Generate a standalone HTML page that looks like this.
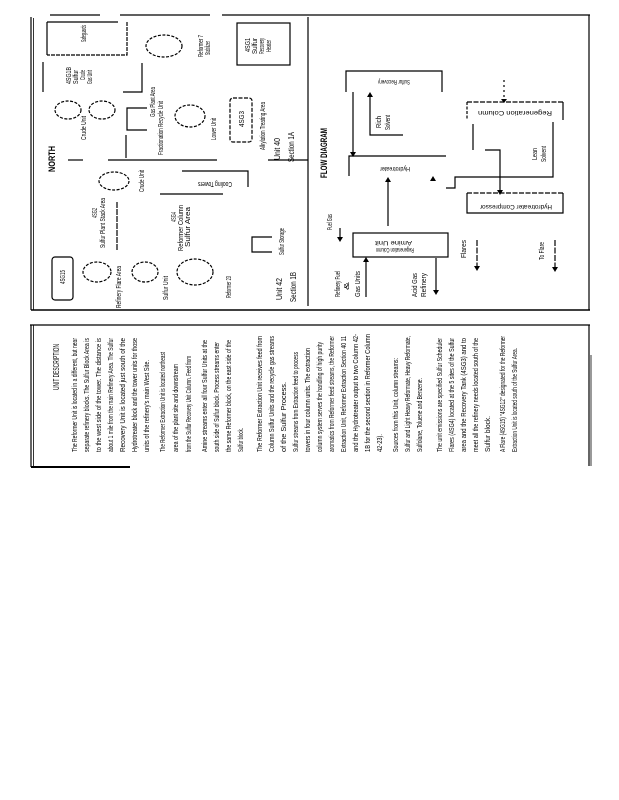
<!DOCTYPE html>
<html><head><meta charset="utf-8"><style>
html,body{margin:0;padding:0;background:#fff;}
svg{display:block;}
text{font-family:"Liberation Sans",sans-serif;fill:#000;}
</style></head><body>
<svg width="619" height="800" viewBox="0 0 619 800" xmlns="http://www.w3.org/2000/svg">
<g stroke="#000" stroke-width="1.2" fill="none">
<line x1="31" y1="17" x2="31" y2="310"/>
<line x1="33.5" y1="18" x2="33.5" y2="310" stroke-width="0.8"/>
<line x1="31" y1="310" x2="590" y2="310" stroke-width="1.6"/>
<line x1="50" y1="15" x2="100" y2="15"/>
<line x1="120" y1="15" x2="210" y2="15"/>
<line x1="222" y1="15" x2="590" y2="15"/>
<line x1="589" y1="15" x2="589" y2="310"/>
<line x1="308" y1="17" x2="308" y2="306"/>
<line x1="268" y1="160" x2="308" y2="160"/>
<polyline points="127,22 127,55 47,55" stroke-dasharray="4,1"/>
<line x1="47" y1="22" x2="47" y2="55"/>
<line x1="47" y1="22" x2="118" y2="22"/>
<ellipse cx="164" cy="46" rx="18" ry="11" stroke-dasharray="3,1.5"/>
<rect x="237" y="23" width="53" height="42"/>
<line x1="43" y1="62" x2="43" y2="92"/>
<polyline points="142,63 142,92 123,92"/>
<ellipse cx="68" cy="110" rx="13" ry="9" stroke-dasharray="3,1.5"/>
<ellipse cx="102" cy="110" rx="13" ry="9" stroke-dasharray="3,1.5"/>
<polyline points="147,108 127,108 127,130 147,130"/>
<ellipse cx="190" cy="116" rx="15" ry="11" stroke-dasharray="3,1.5"/>
<rect x="230" y="98" width="22" height="44" rx="3" stroke-dasharray="4,1.5"/>
<line x1="68" y1="160" x2="83" y2="160"/>
<line x1="108" y1="160" x2="217" y2="160"/>
<line x1="126" y1="135" x2="126" y2="158"/>
<ellipse cx="114" cy="181" rx="15" ry="9" stroke-dasharray="3,1.5"/>
<polyline points="182,171 248,171 248,187"/>
<line x1="160" y1="194" x2="223" y2="194"/>
<line x1="117" y1="202" x2="117" y2="250" stroke-dasharray="6,1"/>
<polyline points="272,237 252,237 252,252 272,252"/>
<rect x="52" y="257" width="21" height="43" rx="3"/>
<ellipse cx="97" cy="272" rx="14" ry="10" stroke-dasharray="3,1.5"/>
<ellipse cx="145" cy="272" rx="13" ry="10" stroke-dasharray="3,1.5"/>
<ellipse cx="195" cy="272" rx="18" ry="13" stroke-dasharray="3,1.5"/>
<polyline points="346,92 346,71 442,71 442,92"/>
<line x1="353" y1="92" x2="353" y2="152"/>
<polyline points="403,135 370,135 370,97"/>
<polyline points="349,176 349,156 446,156"/>
<line x1="388" y1="226" x2="388" y2="182"/>
<polyline points="553,122 553,177 455,177 455,188 446,188"/>
<line x1="467" y1="102" x2="563" y2="102" stroke-dasharray="5,1.5"/>
<line x1="467" y1="102" x2="467" y2="120" stroke-dasharray="3,1.5"/>
<line x1="563" y1="102" x2="563" y2="120"/>
<line x1="504" y1="80" x2="504" y2="99" stroke-dasharray="2,3"/>
<line x1="473" y1="124" x2="473" y2="150"/>
<polyline points="485,150 500,150 500,190"/>
<line x1="467" y1="193" x2="563" y2="193" stroke-dasharray="5,1.5"/>
<polyline points="467,193 467,213 563,213 563,193"/>
<rect x="353" y="233" width="95" height="24"/>
<line x1="366" y1="297" x2="366" y2="262"/>
<line x1="436" y1="258" x2="436" y2="290"/>
<line x1="340" y1="228" x2="340" y2="237"/>
<line x1="477" y1="240" x2="477" y2="266" stroke-dasharray="6,1.5"/>
<line x1="555" y1="240" x2="555" y2="267" stroke-dasharray="6,1.5"/>
<line x1="30" y1="325" x2="590" y2="325"/>
<line x1="31" y1="325" x2="31" y2="467"/>
<line x1="33.5" y1="325" x2="33.5" y2="466" stroke-width="0.8"/>
<line x1="31" y1="467" x2="130" y2="467" stroke-width="2"/>
<line x1="589" y1="325" x2="589" y2="466"/>
<line x1="591" y1="355" x2="591" y2="466" stroke-width="0.8"/>
</g>
<g fill="#000">
<polygon points="350,152 356,152 353,157"/>
<polygon points="367,97 373,97 370,92"/>
<polygon points="385,182 391,182 388,177"/>
<polygon points="430,181 436,181 433,176"/>
<polygon points="501,99 507,99 504,103"/>
<polygon points="497,190 503,190 500,195"/>
<polygon points="363,262 369,262 366,257"/>
<polygon points="433,290 439,290 436,295"/>
<polygon points="337,237 343,237 340,242"/>
<polygon points="474,266 480,266 477,271"/>
<polygon points="552,267 558,267 555,272"/>
</g>
<g font-size="7">
<text transform="translate(86,42) rotate(-90)" textLength="17" lengthAdjust="spacingAndGlyphs">Safeguards</text>
<text transform="translate(203,57) rotate(-90)" textLength="22" lengthAdjust="spacingAndGlyphs">Reformer 7</text>
<text transform="translate(210,55) rotate(-90)" textLength="14" lengthAdjust="spacingAndGlyphs">Stabilizer</text>
<text transform="translate(250,52) rotate(-90)" textLength="14" lengthAdjust="spacingAndGlyphs">4SG1</text>
<text transform="translate(257,54) rotate(-90)" textLength="16" lengthAdjust="spacingAndGlyphs">Sulfur</text>
<text transform="translate(264,54) rotate(-90)" textLength="16" lengthAdjust="spacingAndGlyphs">Recovery</text>
<text transform="translate(271,52) rotate(-90)" textLength="12" lengthAdjust="spacingAndGlyphs">Heater</text>
<text transform="translate(71,84) rotate(-90)" textLength="17" lengthAdjust="spacingAndGlyphs">4SG1B</text>
<text transform="translate(78,84) rotate(-90)" textLength="14" lengthAdjust="spacingAndGlyphs">Sulfur</text>
<text transform="translate(85,80) rotate(-90)" textLength="10" lengthAdjust="spacingAndGlyphs">Crude</text>
<text transform="translate(92,84) rotate(-90)" textLength="14" lengthAdjust="spacingAndGlyphs">Gas Unit</text>
<text transform="translate(86,140) rotate(-90)" textLength="24" lengthAdjust="spacingAndGlyphs">Crude Unit</text>
<text transform="translate(155,117) rotate(-90)" textLength="30" lengthAdjust="spacingAndGlyphs">Gas Plant Area</text>
<text transform="translate(163,155) rotate(-90)" textLength="54" lengthAdjust="spacingAndGlyphs">Fractionation Recycle Unit</text>
<text transform="translate(216,140) rotate(-90)" textLength="22" lengthAdjust="spacingAndGlyphs">Lower Unit</text>
<text transform="translate(244,127) rotate(-90)" textLength="16" lengthAdjust="spacingAndGlyphs">4SG3</text>
<text transform="translate(265,150) rotate(-90)" textLength="48" lengthAdjust="spacingAndGlyphs">Alkylation Treating Area</text>
<text transform="translate(144,192) rotate(-90)" textLength="22" lengthAdjust="spacingAndGlyphs">Crude Unit</text>
<text transform="translate(232,182) rotate(180)" textLength="34" lengthAdjust="spacingAndGlyphs">Cooling Towers</text>
<text transform="translate(97,218) rotate(-90)" textLength="10" lengthAdjust="spacingAndGlyphs">4SG2</text>
<text transform="translate(105,248) rotate(-90)" textLength="50" lengthAdjust="spacingAndGlyphs">Sulfur Plant Stack Area</text>
<text transform="translate(176,222) rotate(-90)" textLength="10" lengthAdjust="spacingAndGlyphs">4SG4</text>
<text transform="translate(183,251) rotate(-90)" textLength="46" lengthAdjust="spacingAndGlyphs">Reformer Column</text>
<text transform="translate(190,247) rotate(-90)" textLength="40" lengthAdjust="spacingAndGlyphs">Sulfur Area</text>
<text transform="translate(284,255) rotate(-90)" textLength="27" lengthAdjust="spacingAndGlyphs">Sulfur Storage</text>
<text transform="translate(65,284) rotate(-90)" textLength="14" lengthAdjust="spacingAndGlyphs">4SG15</text>
<text transform="translate(121,308) rotate(-90)" textLength="42" lengthAdjust="spacingAndGlyphs">Refinery Flare Area</text>
<text transform="translate(168,300) rotate(-90)" textLength="24" lengthAdjust="spacingAndGlyphs">Sulfur Unit</text>
<text transform="translate(231,298) rotate(-90)" textLength="22" lengthAdjust="spacingAndGlyphs">Reformer 23</text>
<text transform="translate(410,80) rotate(180)" font-size="6" textLength="32" lengthAdjust="spacingAndGlyphs">Sulfur Recovery</text>
<text transform="translate(381,128) rotate(-90)" textLength="12" lengthAdjust="spacingAndGlyphs">Rich</text>
<text transform="translate(390,130) rotate(-90)" textLength="15" lengthAdjust="spacingAndGlyphs">Solvent</text>
<text transform="translate(410,167) rotate(180)" font-size="6" textLength="30" lengthAdjust="spacingAndGlyphs">Hydrotreater</text>
<text transform="translate(552,111) rotate(180)" font-size="6" textLength="74" lengthAdjust="spacingAndGlyphs">Regeneration Column</text>
<text transform="translate(537,160) rotate(-90)" textLength="12" lengthAdjust="spacingAndGlyphs">Lean</text>
<text transform="translate(546,162) rotate(-90)" textLength="16" lengthAdjust="spacingAndGlyphs">Solvent</text>
<text transform="translate(552,205) rotate(180)" font-size="6" textLength="72" lengthAdjust="spacingAndGlyphs">Hydrotreater Compressor</text>
<text transform="translate(412,241) rotate(180)" font-size="6" textLength="37" lengthAdjust="spacingAndGlyphs">Amine Unit</text>
<text transform="translate(414,248) rotate(180)" font-size="6" textLength="38" lengthAdjust="spacingAndGlyphs">Regeneration Column</text>
<text transform="translate(332,230) rotate(-90)" textLength="16" lengthAdjust="spacingAndGlyphs">Fuel Gas</text>
<text transform="translate(340,297) rotate(-90)" textLength="26" lengthAdjust="spacingAndGlyphs">Refinery Fuel</text>
<text transform="translate(349,290) rotate(-90)" textLength="8" lengthAdjust="spacingAndGlyphs">&amp;</text>
<text transform="translate(360,297) rotate(-90)" textLength="26" lengthAdjust="spacingAndGlyphs">Gas Units</text>
<text transform="translate(417,297) rotate(-90)" textLength="24" lengthAdjust="spacingAndGlyphs">Acid Gas</text>
<text transform="translate(426,297) rotate(-90)" textLength="24" lengthAdjust="spacingAndGlyphs">Refinery</text>
<text transform="translate(466,258) rotate(-90)" textLength="18" lengthAdjust="spacingAndGlyphs">Flares</text>
<text transform="translate(544,260) rotate(-90)" textLength="18" lengthAdjust="spacingAndGlyphs">To Flare</text>
</g>
<g font-size="9" font-weight="bold">
<text transform="translate(55,172) rotate(-90)" textLength="26" lengthAdjust="spacingAndGlyphs">NORTH</text>
<text transform="translate(327,178) rotate(-90)" textLength="50" lengthAdjust="spacingAndGlyphs">FLOW DIAGRAM</text>
</g>
<g font-size="8.5">
<text transform="translate(280,160) rotate(-90)" textLength="22" lengthAdjust="spacingAndGlyphs">Unit 40</text>
<text transform="translate(294,162) rotate(-90)" textLength="30" lengthAdjust="spacingAndGlyphs">Section 1A</text>
<text transform="translate(282,300) rotate(-90)" textLength="22" lengthAdjust="spacingAndGlyphs">Unit 42</text>
<text transform="translate(296,302) rotate(-90)" textLength="30" lengthAdjust="spacingAndGlyphs">Section 1B</text>
<text transform="translate(59,390) rotate(-90)" textLength="46" lengthAdjust="spacingAndGlyphs">UNIT DESCRIPTION</text>
</g>
<g font-size="7.5">
<text transform="translate(77,452) rotate(-90)" textLength="114" lengthAdjust="spacingAndGlyphs">The Reformer Unit is located in a different, but near</text>
<text transform="translate(89,452) rotate(-90)" textLength="114" lengthAdjust="spacingAndGlyphs">separate refinery blocks. The Sulfur Block Area is</text>
<text transform="translate(101,452) rotate(-90)" textLength="114" lengthAdjust="spacingAndGlyphs">to the west side of the tower. The distance is</text>
<text transform="translate(113,452) rotate(-90)" textLength="114" lengthAdjust="spacingAndGlyphs">about 1 mile from the main Refinery Area. The Sulfur</text>
<text transform="translate(125,452) rotate(-90)" textLength="114" lengthAdjust="spacingAndGlyphs">Recovery Unit is located just south of the</text>
<text transform="translate(137,452) rotate(-90)" textLength="114" lengthAdjust="spacingAndGlyphs">Hydrotreater block and the tower units for those</text>
<text transform="translate(149,452) rotate(-90)" textLength="92" lengthAdjust="spacingAndGlyphs">units of the refinery's main West Site.</text>
<text transform="translate(165,452) rotate(-90)" textLength="100" lengthAdjust="spacingAndGlyphs">The Reformer Extraction Unit is located northeast</text>
<text transform="translate(178,452) rotate(-90)" textLength="88" lengthAdjust="spacingAndGlyphs">area of the plant site and downstream</text>
<text transform="translate(191,452) rotate(-90)" textLength="96" lengthAdjust="spacingAndGlyphs">from the Sulfur Recovery Unit Column. Feed from</text>
<text transform="translate(207,452) rotate(-90)" textLength="112" lengthAdjust="spacingAndGlyphs">Amine streams enter all four Sulfur Units at the</text>
<text transform="translate(219,452) rotate(-90)" textLength="110" lengthAdjust="spacingAndGlyphs">south side of Sulfur block. Process streams enter</text>
<text transform="translate(231,452) rotate(-90)" textLength="112" lengthAdjust="spacingAndGlyphs">the same Reformer block, on the east side of the</text>
<text transform="translate(243,452) rotate(-90)" textLength="24" lengthAdjust="spacingAndGlyphs">Sulfur block.</text>
<text transform="translate(262,452) rotate(-90)" textLength="116" lengthAdjust="spacingAndGlyphs">The Reformer Extraction Unit receives feed from</text>
<text transform="translate(274,452) rotate(-90)" textLength="116" lengthAdjust="spacingAndGlyphs">Column Sulfur Units and the recycle gas streams</text>
<text transform="translate(286,452) rotate(-90)" textLength="70" lengthAdjust="spacingAndGlyphs">of the Sulfur Process.</text>
<text transform="translate(298,452) rotate(-90)" textLength="100" lengthAdjust="spacingAndGlyphs">Sulfur streams from Extraction feed to process</text>
<text transform="translate(310,452) rotate(-90)" textLength="104" lengthAdjust="spacingAndGlyphs">towers in four column units. The extraction</text>
<text transform="translate(322,452) rotate(-90)" textLength="110" lengthAdjust="spacingAndGlyphs">column system serves the handling of high purity</text>
<text transform="translate(334,452) rotate(-90)" textLength="116" lengthAdjust="spacingAndGlyphs">aromatics from Reformer feed streams, the Reformer</text>
<text transform="translate(346,452) rotate(-90)" textLength="116" lengthAdjust="spacingAndGlyphs">Extraction Unit, Reformer Extraction Section 40 11</text>
<text transform="translate(358,452) rotate(-90)" textLength="118" lengthAdjust="spacingAndGlyphs">and the Hydrotreater output to two Column 42-</text>
<text transform="translate(370,452) rotate(-90)" textLength="118" lengthAdjust="spacingAndGlyphs">1B for the second section in Reformer Column</text>
<text transform="translate(382,452) rotate(-90)" textLength="18" lengthAdjust="spacingAndGlyphs">42-23).</text>
<text transform="translate(398,452) rotate(-90)" textLength="94" lengthAdjust="spacingAndGlyphs">Sources from this Unit, column streams:</text>
<text transform="translate(410,452) rotate(-90)" textLength="116" lengthAdjust="spacingAndGlyphs">Sulfur and Light Heavy Reformate, Heavy Reformate,</text>
<text transform="translate(422,452) rotate(-90)" textLength="74" lengthAdjust="spacingAndGlyphs">Sulfolane, Toluene and Benzene.</text>
<text transform="translate(442,452) rotate(-90)" textLength="114" lengthAdjust="spacingAndGlyphs">The unit emissions are specified Sulfur Scheduler</text>
<text transform="translate(454,452) rotate(-90)" textLength="114" lengthAdjust="spacingAndGlyphs">Flares (4SG4) located at the 5 sites of the Sulfur</text>
<text transform="translate(466,452) rotate(-90)" textLength="114" lengthAdjust="spacingAndGlyphs">area and the Recovery Tank (4SG3) and to</text>
<text transform="translate(478,452) rotate(-90)" textLength="114" lengthAdjust="spacingAndGlyphs">meet all the refinery needs located south of the</text>
<text transform="translate(490,452) rotate(-90)" textLength="36" lengthAdjust="spacingAndGlyphs">Sulfur block.</text>
<text transform="translate(505,452) rotate(-90)" textLength="116" lengthAdjust="spacingAndGlyphs">A Flare (4SG15) "4SG12" designated for the Reformer</text>
<text transform="translate(517,452) rotate(-90)" textLength="104" lengthAdjust="spacingAndGlyphs">Extraction Unit is located south of the Sulfur Area.</text>
</g>
</svg>
</body></html>
